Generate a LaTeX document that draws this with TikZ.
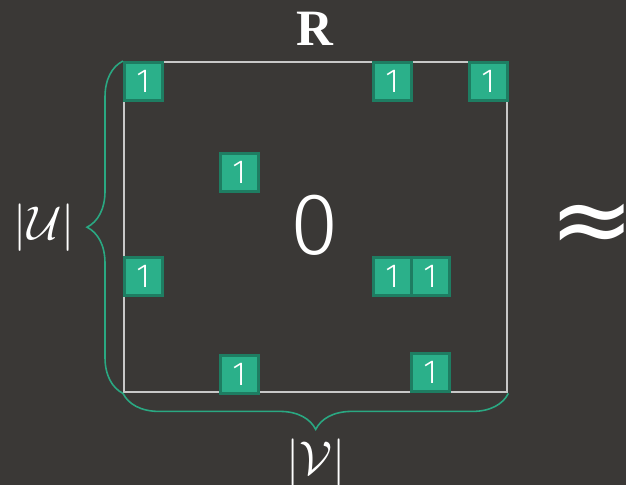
\RequirePackage{fix-cm}
\documentclass[tikz,border=0pt]{standalone}
\usepackage{fontspec}
\setsansfont{Fira Sans}[UprightFont=* Light]
\newfontfamily\titlefont{Liberation Serif}
\newfontfamily\symbolfont{DejaVu Sans}
\usepackage{tikz}
\usetikzlibrary{positioning, calc, decorations.pathreplacing}

\definecolor{bgdark}{HTML}{3A3836}
\definecolor{cellgreen}{HTML}{2BB08A}
\definecolor{cellborder}{HTML}{1E7D62}
\definecolor{bracegreen}{HTML}{2AA882}
\definecolor{framegray}{HTML}{C8C8C8}

\begin{document}
\begin{tikzpicture}[x=0.02cm, y=-0.02cm,
    cell/.style={rectangle, draw=cellborder, fill=cellgreen, line width=1.5pt, minimum size=0.76cm, inner sep=0pt, anchor=north west, text=white, font=\sffamily\fontsize{19}{19}\selectfont},
    bracket/.style={decorate, decoration={brace, amplitude=0.72cm}, draw=bracegreen, line width=0.9pt},
    label/.style={text=white, inner sep=0pt}
]

% Background
\fill[bgdark] (0,0) rectangle (626,485);
\useasboundingbox (0,0) rectangle (626,485);

% Matrix frame
\node[draw=framegray, line width=1.4pt, minimum width=7.66cm, minimum height=6.6cm, inner sep=0pt, anchor=north west] (matrix) at (123,61) {};
\node[label, font=\sffamily\fontsize{50}{50}\selectfont] (zero) at (315,225) {0};
\node[label, font=\titlefont\bfseries\fontsize{29}{29}\selectfont] (title) at (315,29) {R};

% Non-zero entries
\foreach \x/\y [count=\i] in {123/61, 372/61, 468/61, 219/152, 123/256, 372/256, 410/256, 219/354, 410/352}
    \node[cell] (c\i) at (\x,\y) {1};

% Dimensions
\draw[bracket] (matrix.south west) -- (matrix.north west) node[midway, left=0.95cm, label, font=\fontsize{27}{27}\selectfont] (rows) {$|\mathcal{U}|$};
\draw[bracket] (matrix.south east) -- (matrix.south west) node[midway, below=0.9cm, label, font=\fontsize{27}{27}\selectfont] (cols) {$|\mathcal{V}|$};

% Approximation sign
\node[label, anchor=west, font=\symbolfont\fontsize{58}{58}\selectfont] (approx) at (549,229) {≈};

\end{tikzpicture}
\end{document}
